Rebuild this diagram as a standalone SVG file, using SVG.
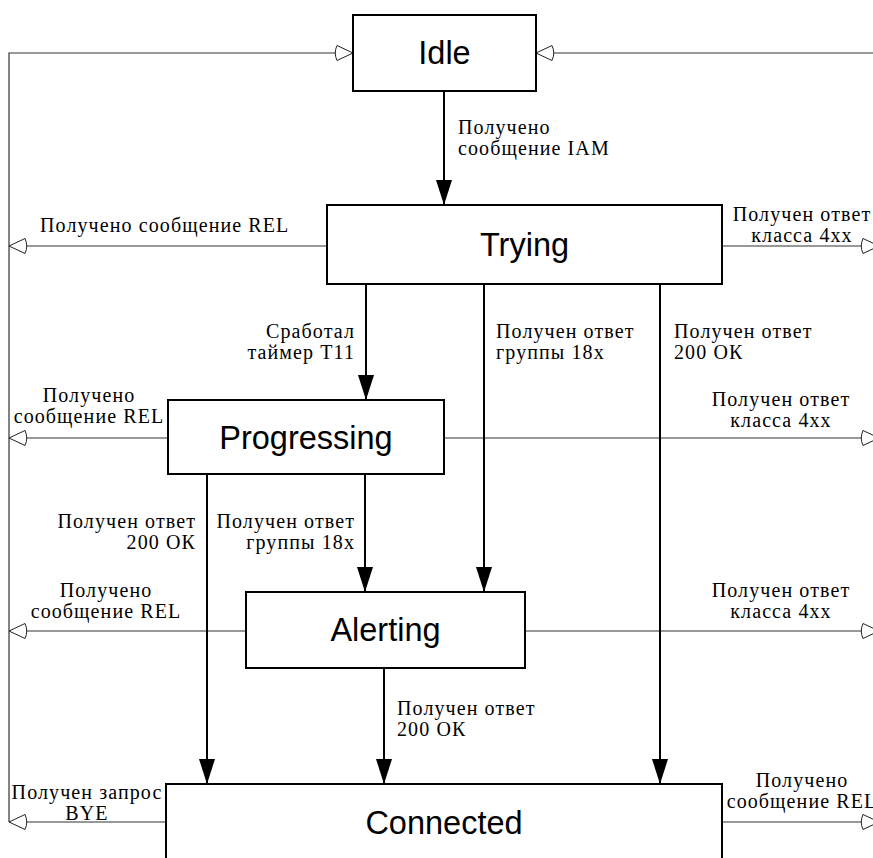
<svg xmlns="http://www.w3.org/2000/svg" width="873" height="858" viewBox="0 0 873 858">
<style>
.box{fill:#fff;stroke:#000;stroke-width:2}
.st{font-family:"Liberation Sans",Arial,sans-serif;font-size:32.5px;text-anchor:middle;fill:#000}
.lb{font-family:"Liberation Serif","Times New Roman",serif;font-size:20px;letter-spacing:1.1px;fill:#000}
.mid{text-anchor:middle}
.end{text-anchor:end}
.v{stroke:#000;stroke-width:2;fill:none}
.h{stroke:#333;stroke-width:1.2;fill:none}
</style>
<defs>
<marker id="fill" markerUnits="userSpaceOnUse" viewBox="0 0 25 16" markerWidth="25" markerHeight="16" refX="25" refY="8" orient="auto">
<path d="M0,0 L25,8 L0,16 Z" fill="#000"/>
</marker>
<marker id="open" markerUnits="userSpaceOnUse" viewBox="-5 -1 23 17" markerWidth="23" markerHeight="17" refX="16" refY="7.5" orient="auto">
<path d="M0,0 L16,7.5 L0,15 Q-3.5,7.5 0,0 Z" fill="#fff" stroke="#222" stroke-width="1"/>
</marker>
</defs>
<rect width="873" height="858" fill="#fff"/>
<g id="connectors">
<path class="h" d="M9,822 V53 H353" marker-end="url(#open)"/>
<path class="h" d="M880,53 H536" marker-end="url(#open)"/>
<path class="h" d="M327,246 H9" marker-end="url(#open)"/>
<path class="h" d="M722,246 H879" marker-end="url(#open)"/>
<path class="h" d="M168,438 H9" marker-end="url(#open)"/>
<path class="h" d="M442,438 H879" marker-end="url(#open)"/>
<path class="h" d="M246,631 H9" marker-end="url(#open)"/>
<path class="h" d="M525,631 H879" marker-end="url(#open)"/>
<path class="h" d="M166,822 H9" marker-end="url(#open)"/>
<path class="h" d="M722,822 H879" marker-end="url(#open)"/>
<path class="v" d="M444,91 V205" marker-end="url(#fill)"/>
<path class="v" d="M366,284 V400" marker-end="url(#fill)"/>
<path class="v" d="M484,284 V592" marker-end="url(#fill)"/>
<path class="v" d="M660,284 V784" marker-end="url(#fill)"/>
<path class="v" d="M365,474 V592" marker-end="url(#fill)"/>
<path class="v" d="M207,474 V784" marker-end="url(#fill)"/>
<path class="v" d="M384,668 V784" marker-end="url(#fill)"/>
</g>
<g id="labels">
<text class="lb" x="458" y="134">Получено</text>
<text class="lb" x="458" y="155">сообщение IAM</text>
<text class="lb" x="40" y="232">Получено сообщение REL</text>
<text class="lb mid" x="802" y="221">Получен ответ</text>
<text class="lb mid" x="802" y="242">класса 4xx</text>
<text class="lb end" x="355" y="338">Сработал</text>
<text class="lb end" x="355" y="359">таймер Т11</text>
<text class="lb" x="496" y="338">Получен ответ</text>
<text class="lb" x="496" y="359">группы 18x</text>
<text class="lb" x="674" y="338">Получен ответ</text>
<text class="lb" x="674" y="359">200 ОК</text>
<text class="lb mid" x="89" y="402">Получено</text>
<text class="lb mid" x="89" y="423">сообщение REL</text>
<text class="lb mid" x="781" y="406">Получен ответ</text>
<text class="lb mid" x="781" y="427">класса 4xx</text>
<text class="lb end" x="196" y="528">Получен ответ</text>
<text class="lb end" x="196" y="549">200 ОК</text>
<text class="lb end" x="355" y="528">Получен ответ</text>
<text class="lb end" x="355" y="549">группы 18x</text>
<text class="lb mid" x="106" y="597">Получено</text>
<text class="lb mid" x="106" y="618">сообщение REL</text>
<text class="lb mid" x="781" y="597">Получен ответ</text>
<text class="lb mid" x="781" y="618">класса 4xx</text>
<text class="lb" x="397" y="715">Получен ответ</text>
<text class="lb" x="397" y="736">200 ОК</text>
<text class="lb mid" x="87" y="799">Получен запрос</text>
<text class="lb mid" x="87" y="820">BYE</text>
<text class="lb mid" x="802" y="787">Получено</text>
<text class="lb mid" x="802" y="808">сообщение REL</text>
</g>
<g id="idle"><rect class="box" x="353" y="15" width="183" height="76"/><text class="st" x="444.5" y="64">Idle</text></g>
<g id="trying"><rect class="box" x="327" y="205" width="395" height="79"/><text class="st" x="524.5" y="256">Trying</text></g>
<g id="progressing"><rect class="box" x="168" y="400" width="276" height="74"/><text class="st" x="306" y="449">Progressing</text></g>
<g id="alerting"><rect class="box" x="246" y="592" width="279" height="76"/><text class="st" x="385.5" y="641">Alerting</text></g>
<g id="connected"><rect class="box" x="166" y="784" width="556" height="90"/><text class="st" x="444" y="834">Connected</text></g>
</svg>
